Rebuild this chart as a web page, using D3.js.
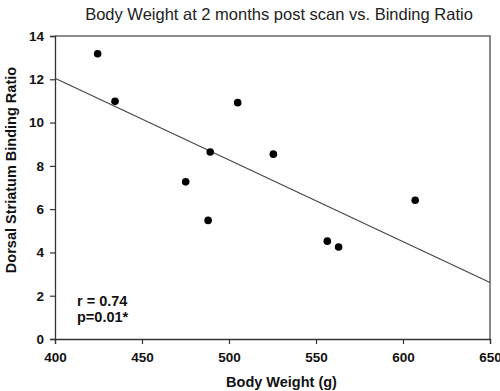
<!DOCTYPE html>
<html>
<head>
<meta charset="utf-8">
<script src="https://cdn.jsdelivr.net/npm/d3@7"></script>
<style>
  body { margin: 0; background: #fff; }
  svg { display: block; font-family: Arial, "Liberation Sans", sans-serif; }
</style>
</head>
<body>
<div id="chart"></div>
<script>
// body weight (g) and dorsal striatum binding ratio, one entry per animal
var bodyWeight = [424.5, 434.5, 505, 489.2, 525.5, 475.1, 488, 607, 556.5, 563];
var bindingRatio = [13.18, 10.98, 10.92, 8.64, 8.54, 7.26, 5.48, 6.41, 4.52, 4.25];

var xTicks = [400, 450, 500, 550, 600, 650];
var yTicks = [0, 2, 4, 6, 8, 10, 12, 14];
var statsLines = ["r = 0.74", "p=0.01*"];

var width = 500, height = 391;
var margin = {top: 36, right: 10, bottom: 52, left: 55};

var svg = d3.select("#chart")
    .append("svg")
    .attr("width", width)
    .attr("height", height);

var x = d3.scaleLinear().domain([400, 650]).range([margin.left, width - margin.right]);
var y = d3.scaleLinear().domain([0, 14]).range([height - margin.bottom, margin.top]);

// frame: grey top and right edges
svg.append("path")
    .attr("d", `M${x(400)},${y(14)}H${x(650)}V${y(0)}`)
    .attr("fill", "none")
    .attr("stroke", "#666")
    .attr("stroke-width", 1.5);

var xAxis = svg.append("g")
    .attr("transform", `translate(0,${y(0)})`)
    .call(d3.axisBottom(x).tickValues(xTicks).tickSize(5).tickPadding(8));

var yAxis = svg.append("g")
    .attr("transform", `translate(${x(400)},0)`)
    .call(d3.axisLeft(y).tickValues(yTicks).tickSize(5).tickPadding(6));

[xAxis, yAxis].forEach(function(a) {
    a.select(".domain").attr("stroke", "#333").attr("stroke-width", 1.3);
    a.selectAll(".tick line").attr("stroke", "#333").attr("stroke-width", 1.2);
    a.selectAll(".tick text")
        .attr("fill", "#111")
        .style("font-size", "13.5px")
        .style("font-weight", "bold");
});

// least squares fit
var mx = d3.mean(bodyWeight), my = d3.mean(bindingRatio);
var sxy = d3.sum(bodyWeight, (d, i) => (d - mx) * (bindingRatio[i] - my));
var sxx = d3.sum(bodyWeight, d => (d - mx) * (d - mx));
var slope = sxy / sxx, intercept = my - slope * mx;

svg.append("line")
    .attr("x1", x(400)).attr("y1", y(intercept + slope * 400))
    .attr("x2", x(650)).attr("y2", y(intercept + slope * 650))
    .attr("stroke", "#444")
    .attr("stroke-width", 1.1);

svg.append("g")
    .selectAll("circle")
    .data(bodyWeight)
    .join("circle")
    .attr("cx", d => x(d))
    .attr("cy", (d, i) => y(bindingRatio[i]))
    .attr("r", 3.8)
    .attr("fill", "#000");

svg.append("g")
    .selectAll("text")
    .data(statsLines)
    .join("text")
    .attr("x", 77)
    .attr("y", (d, i) => 306 + i * 15.5)
    .attr("fill", "#111")
    .style("font-size", "14.5px")
    .style("font-weight", "bold")
    .text(d => d);

svg.append("text")
    .attr("x", 279)
    .attr("y", 20)
    .attr("text-anchor", "middle")
    .attr("fill", "#222")
    .style("font-size", "16.5px")
    .text("Body Weight at 2 months post scan vs. Binding Ratio");

svg.append("text")
    .attr("x", (x(400) + x(650)) / 2 + 9)
    .attr("y", 387)
    .attr("text-anchor", "middle")
    .attr("fill", "#111")
    .style("font-size", "14.5px")
    .style("font-weight", "bold")
    .text("Body Weight (g)");

svg.append("text")
    .attr("transform", "translate(15.5,170) rotate(-90)")
    .attr("text-anchor", "middle")
    .attr("fill", "#111")
    .style("font-size", "14.5px")
    .style("font-weight", "bold")
    .text("Dorsal Striatum Binding Ratio");
</script>
</body>
</html>
